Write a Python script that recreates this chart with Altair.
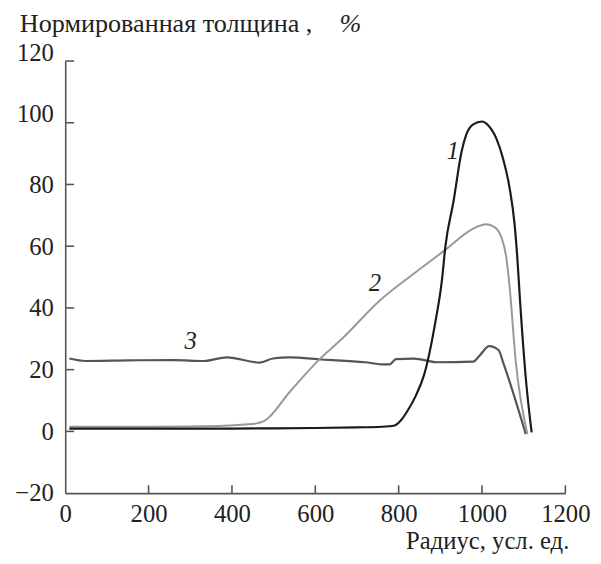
import altair as alt
import pandas as pd

# Curve 1 (black)
x1 = [10, 100, 200, 300, 400, 500, 600, 700, 760, 790, 805, 821, 841, 861, 888, 904, 912, 932, 951, 962, 979, 1000, 1014, 1034, 1050, 1066, 1078, 1085, 1091, 1105, 1119]
y1 = [0.9, 0.9, 0.9, 0.9, 0.9, 1.0, 1.1, 1.3, 1.5, 1.9, 3.5, 6.6, 11.5, 18.3, 35.4, 49.2, 59.8, 74.8, 90.7, 96.1, 99.5, 100.4, 99.3, 95.0, 88.6, 79.0, 67.3, 55.6, 42.8, 17.3, -0.3]
# Curve 2 (light gray)
x2 = [10, 100, 200, 300, 380, 430, 459, 478, 540, 608, 664, 758, 840, 912, 979, 1010, 1030, 1046, 1058, 1066, 1081, 1109]
y2 = [1.5, 1.5, 1.5, 1.6, 1.8, 2.2, 2.6, 3.4, 13.0, 23.1, 30.0, 42.8, 51.5, 58.8, 65.7, 67.1, 66.2, 63.0, 56.6, 47.1, 22.6, -0.9]
# Curve 3 (dark gray)
x3 = [10, 49, 150, 262, 333, 388, 467, 498, 538, 616, 719, 766, 778, 794, 837, 892, 979, 995, 1017, 1040, 1050, 1105]
y3 = [23.6, 22.8, 23.0, 23.1, 22.8, 24.0, 22.3, 23.6, 24.0, 23.3, 22.4, 21.7, 21.7, 23.4, 23.6, 22.4, 22.6, 24.7, 27.6, 26.3, 22.6, -0.9]

curve_labels = ["1", "2", "3"]
label_x = [930, 743, 301]
label_y = [90.7, 48.2, 29.4]

x_ticks = [0, 200, 400, 600, 800, 1000, 1200]
y_ticks = [-20, 0, 20, 40, 60, 80, 100, 120]

y_title = "Нормированная толщина ,"
y_title_unit = "%"
x_title = "Радиус, усл. ед."

W, H = 507, 438
FONT = "Liberation Serif"
AX = "#555555"
TXT = "#222222"

xs = alt.Scale(domain=[0, 1200], nice=False, zero=False)
ys = alt.Scale(domain=[-20, 120], nice=False, zero=False)

xaxis = alt.Axis(values=x_ticks, ticks=False, tickSize=0, grid=False, domainColor=AX, domainWidth=1.6,
                 labelFont=FONT, labelFontSize=25, labelColor=TXT, labelPadding=9, title=None,
                 labelFlush=False, format="d")
yaxis = alt.Axis(values=y_ticks, ticks=False, tickSize=0, grid=False, domainColor=AX, domainWidth=1.6,
                 labelFont=FONT, labelFontSize=25, labelColor=TXT, labelPadding=12, title=None,
                 labelOffset={"condition": {"test": "datum.value >= 100", "value": -9}, "value": 0},
                 format="d")


def line(xv, yv, color, width):
    df = pd.DataFrame({"x": xv, "y": yv})
    return alt.Chart(df).mark_line(color=color, strokeWidth=width, interpolate="monotone").encode(
        x=alt.X("x:Q", scale=xs, axis=xaxis),
        y=alt.Y("y:Q", scale=ys, axis=yaxis),
    )


c3 = line(x3, y3, "#555555", 2.2)
c2 = line(x2, y2, "#999999", 2.0)
c1 = line(x1, y1, "#1a1a1a", 2.2)

lab = alt.Chart(pd.DataFrame({"t": curve_labels, "x": label_x, "y": label_y})).mark_text(
    font=FONT, fontSize=25, fontStyle="italic", color=TXT, align="center", baseline="middle"
).encode(x=alt.X("x:Q", scale=xs), y=alt.Y("y:Q", scale=ys), text="t:N")

ytk = alt.Chart(pd.DataFrame({"v": y_ticks[1:]})).mark_rule(color=AX, strokeWidth=1.6).encode(
    y=alt.Y("v:Q", scale=ys), x=alt.value(0), x2=alt.value(9)
)
xtk = alt.Chart(pd.DataFrame({"v": x_ticks[1:]})).mark_rule(color=AX, strokeWidth=1.6).encode(
    x=alt.X("v:Q", scale=xs), y=alt.value(H), y2=alt.value(H - 8)
)

t1 = alt.Chart(pd.DataFrame({"t": [y_title]})).mark_text(
    font=FONT, fontSize=26.5, color=TXT, align="left", baseline="alphabetic"
).encode(x=alt.value(-46), y=alt.value(-29), text="t:N")
t2 = alt.Chart(pd.DataFrame({"t": [y_title_unit]})).mark_text(
    font=FONT, fontSize=26.5, fontStyle="italic", color=TXT, align="right", baseline="alphabetic"
).encode(x=alt.value(300), y=alt.value(-29), text="t:N")
t3 = alt.Chart(pd.DataFrame({"t": [x_title]})).mark_text(
    font=FONT, fontSize=25, color=TXT, align="right", baseline="alphabetic"
).encode(x=alt.value(W + 4), y=alt.value(H + 57), text="t:N")

chart = alt.layer(c3, c2, c1, lab, ytk, xtk, t1, t2, t3).properties(
    width=W, height=H,
    autosize=alt.AutoSizeParams(type="none"),
    padding={"left": 58, "top": 50, "right": 28, "bottom": 60},
).configure_view(stroke=None).configure_text(font=FONT).configure_axis(labelFont=FONT)

chart.save("out.html", embed_options={"renderer": "svg", "actions": False})
